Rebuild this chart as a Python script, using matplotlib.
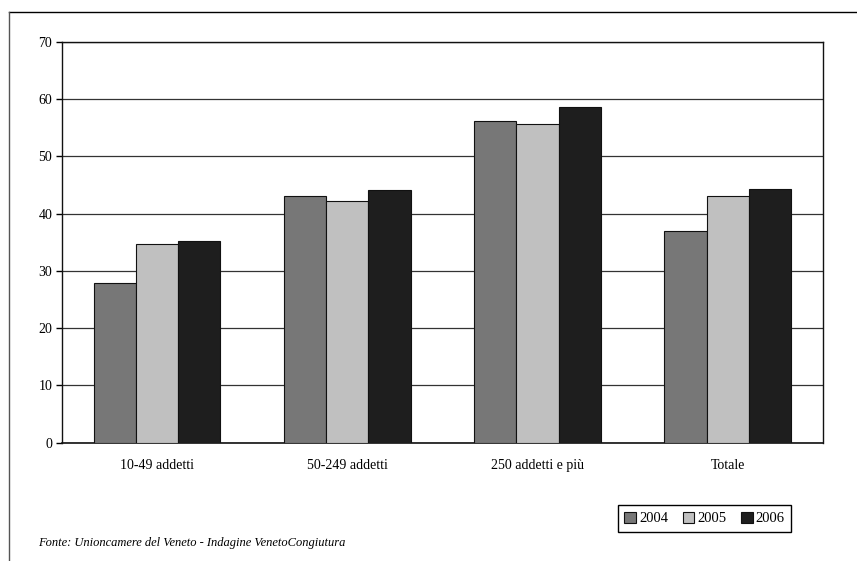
import matplotlib.pyplot as plt
import numpy as np
from matplotlib.lines import Line2D

categorie = ['10-49 addetti', '50-249 addetti', '250 addetti e più', 'Totale']
anni = ['2004', '2005', '2006']
v2004 = [27.8, 43.0, 56.2, 36.9]
v2005 = [34.7, 42.2, 55.7, 43.0]
v2006 = [35.2, 44.1, 58.6, 44.3]
colori = ['#777777', '#c0c0c0', '#1e1e1e']

plt.rcParams['font.family'] = ['Liberation Serif', 'DejaVu Serif']

fig = plt.figure(figsize=(8.57, 5.61), dpi=100)
ax = fig.add_axes([0.0723, 0.2109, 0.888, 0.7149])

x = np.arange(len(categorie))
w = 0.222
serie = [v2004, v2005, v2006]
for i, (vals, col, lab) in enumerate(zip(serie, colori, anni)):
    ax.bar(x + (i - 1) * w, vals, width=w, color=col, edgecolor='#111111',
           linewidth=0.8, label=lab, zorder=3)

ax.set_xlim(-0.5, len(categorie) - 0.5)
ax.set_ylim(0, 70)
ax.set_yticks(range(0, 71, 10))
ax.set_xticks(x)
ax.set_xticklabels(categorie, fontsize=10)
ax.tick_params(axis='x', length=0, pad=12)
ax.tick_params(axis='y', length=4, width=1, pad=3, labelsize=10, direction='out')
ax.grid(axis='y', color='#333333', linewidth=0.9, zorder=0)
for s in ax.spines.values():
    s.set_color('#111111')
    s.set_linewidth(1.0)
ax.spines['bottom'].set_linewidth(1.2)

fig.legend(loc='center', bbox_to_anchor=(0.822, 0.0758), ncol=3, fontsize=10.5,
           frameon=True, fancybox=False, edgecolor='black', handlelength=0.8,
           handleheight=0.8, handletextpad=0.2, columnspacing=1.0,
           borderpad=0.45, framealpha=1)

fig.text(0.044, 0.032, 'Fonte: Unioncamere del Veneto - Indagine VenetoCongiutura',
         fontsize=9, style='italic', va='center', ha='left')

# cornice esterna
fig.add_artist(Line2D([9 / 857, 1.0], [1 - 12 / 561, 1 - 12 / 561],
                      transform=fig.transFigure, color='black', linewidth=1))
fig.add_artist(Line2D([9 / 857, 9 / 857], [0, 1 - 12 / 561],
                      transform=fig.transFigure, color='#555555', linewidth=1))

fig.savefig('out.png', dpi=100)
